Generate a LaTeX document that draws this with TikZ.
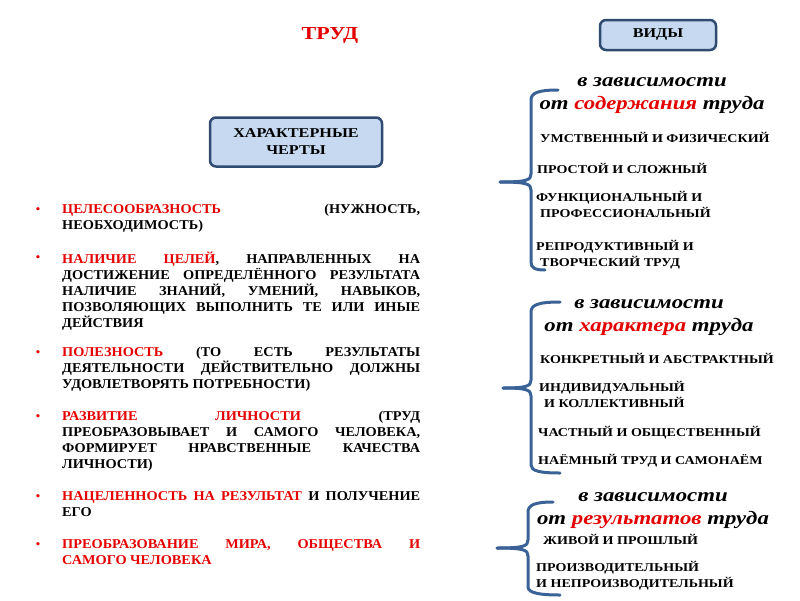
\documentclass[tikz,border=0pt]{standalone}
\usepackage{fontspec}
\setmainfont{Liberation Serif}[FakeStretch=1.2]
\newfontfamily\traitfont{Liberation Serif}[FakeStretch=1.06]
\newfontfamily\kindfont{Liberation Serif}[FakeStretch=1.17]

\definecolor{trudred}{RGB}{228,0,0}
\definecolor{boxfill}{RGB}{198,217,241}
\definecolor{boxline}{RGB}{47,75,112}
\definecolor{braceblue}{RGB}{58,98,150}

\tikzset{
  headbox/.style={draw=boxline, fill=boxfill, line width=2.5pt, rounded corners=6pt,
    align=center, font=\bfseries\fontsize{13.5}{17}\selectfont},
  trait/.style={anchor=north west, inner sep=0pt, text width=358pt, align=justify,
    font=\traitfont\bfseries\fontsize{13.5}{16}\selectfont},
  dot/.style={text=trudred, inner sep=0pt, font=\traitfont\fontsize{13}{13}\selectfont},
  kind/.style={anchor=west, inner sep=0pt, align=left,
    font=\kindfont\bfseries\fontsize{12}{16}\selectfont},
  basis/.style={inner sep=0pt, align=center,
    font=\bfseries\itshape\fontsize{19}{23}\selectfont},
  brace/.style={draw=braceblue, line width=3pt, line cap=round, line join=round},
}
\newcommand{\hl}[1]{\textcolor{trudred}{#1}}

\begin{document}
\begin{tikzpicture}[x=1pt, y=-1pt]
\useasboundingbox (0,0) rectangle (800,600);

% Headers
\node[text=trudred, font=\bfseries\fontsize{18.3}{18}\selectfont] (trud) at (330,35) {ТРУД};
\node[headbox, minimum width=116pt, minimum height=30pt] (vidy) at (658,35) {ВИДЫ};
\node[headbox, minimum width=172pt, minimum height=49pt] (cherty) at (296,142) {ХАРАКТЕРНЫЕ\\ЧЕРТЫ};

% Traits
\node[dot] (b1) at (38,211) {\textbullet};
\node[trait] (t1) at (62,204) {\hl{ЦЕЛЕСООБРАЗНОСТЬ} (НУЖНОСТЬ,\linebreak НЕОБХОДИМОСТЬ)};
\node[dot] (b2) at (38,259) {\textbullet};
\node[trait] (t2) at (62,252) {\hl{НАЛИЧИЕ ЦЕЛЕЙ}, НАПРАВЛЕННЫХ НА\linebreak ДОСТИЖЕНИЕ ОПРЕДЕЛЁННОГО РЕЗУЛЬТАТА\linebreak НАЛИЧИЕ ЗНАНИЙ, УМЕНИЙ, НАВЫКОВ,\linebreak ПОЗВОЛЯЮЩИХ ВЫПОЛНИТЬ ТЕ ИЛИ ИНЫЕ\linebreak ДЕЙСТВИЯ};
\node[dot] (b3) at (38,354) {\textbullet};
\node[trait] (t3) at (62,347) {\hl{ПОЛЕЗНОСТЬ} (ТО ЕСТЬ РЕЗУЛЬТАТЫ\linebreak ДЕЯТЕЛЬНОСТИ ДЕЙСТВИТЕЛЬНО ДОЛЖНЫ\linebreak УДОВЛЕТВОРЯТЬ ПОТРЕБНОСТИ)};
\node[dot] (b4) at (38,418) {\textbullet};
\node[trait] (t4) at (62,411) {\hl{РАЗВИТИЕ ЛИЧНОСТИ} (ТРУД\linebreak ПРЕОБРАЗОВЫВАЕТ И САМОГО ЧЕЛОВЕКА,\linebreak ФОРМИРУЕТ НРАВСТВЕННЫЕ КАЧЕСТВА\linebreak ЛИЧНОСТИ)};
\node[dot] (b5) at (38,498) {\textbullet};
\node[trait] (t5) at (62,491) {\hl{НАЦЕЛЕННОСТЬ НА РЕЗУЛЬТАТ} И ПОЛУЧЕНИЕ\linebreak ЕГО};
\node[dot] (b6) at (38,546) {\textbullet};
\node[trait] (t6) at (62,539) {\hl{ПРЕОБРАЗОВАНИЕ МИРА, ОБЩЕСТВА И\linebreak САМОГО ЧЕЛОВЕКА}};

% By content
\node[basis] (content) at (652,96) {в зависимости\\от \hl{содержания} труда};
\node[kind] (k11) at (540,137) {УМСТВЕННЫЙ И ФИЗИЧЕСКИЙ};
\node[kind] (k12) at (537,168) {ПРОСТОЙ И СЛОЖНЫЙ};
\node[kind] (k13) at (536,204) {ФУНКЦИОНАЛЬНЫЙ И\\\hspace*{4pt}ПРОФЕССИОНАЛЬНЫЙ};
\node[kind] (k14) at (536,255) {РЕПРОДУКТИВНЫЙ И\\\hspace*{4pt}ТВОРЧЕСКИЙ ТРУД};

% By character
\node[basis] (character) at (649,318) {в зависимости\\от \hl{характера} труда};
\node[kind] (k21) at (540,358) {КОНКРЕТНЫЙ И АБСТРАКТНЫЙ};
\node[kind] (k22) at (539,394) {ИНДИВИДУАЛЬНЫЙ\\\hspace*{5pt}И КОЛЛЕКТИВНЫЙ};
\node[kind] (k23) at (538,433) {ЧАСТНЫЙ И ОБЩЕСТВЕННЫЙ};
\node[kind] (k24) at (538,461) {НАЁМНЫЙ ТРУД И САМОНАЁМ};

% By results
\node[basis] (results) at (653,511) {в зависимости\\от \hl{результатов} труда};
\node[kind] (k31) at (543,539) {ЖИВОЙ И ПРОШЛЫЙ};
\node[kind] (k32) at (536,576) {ПРОИЗВОДИТЕЛЬНЫЙ\\И НЕПРОИЗВОДИТЕЛЬНЫЙ};

% Braces
\draw[brace] (558,90) .. controls (538,90) and (531,93) .. (531,100) -- (531,174)
  .. controls (531,180) and (527,182) .. (500,182);
\draw[brace] (500,182) .. controls (527,182) and (531,184) .. (531,190) -- (531,262)
  .. controls (531,268) and (535,270) .. (545,270);
\draw[brace] (560,302) .. controls (538,302) and (531,305) .. (531,312) -- (531,380)
  .. controls (531,386) and (527,388) .. (503,388);
\draw[brace] (503,388) .. controls (527,388) and (531,390) .. (531,396) -- (531,465)
  .. controls (531,471) and (540,473) .. (560,473);
\draw[brace] (553,502) .. controls (535,502) and (528,505) .. (528,512) -- (528,540)
  .. controls (528,546) and (524,548) .. (497,548);
\draw[brace] (497,548) .. controls (524,548) and (528,550) .. (528,556) -- (528,587)
  .. controls (528,593) and (540,595) .. (560,595);
\end{tikzpicture}
\end{document}
